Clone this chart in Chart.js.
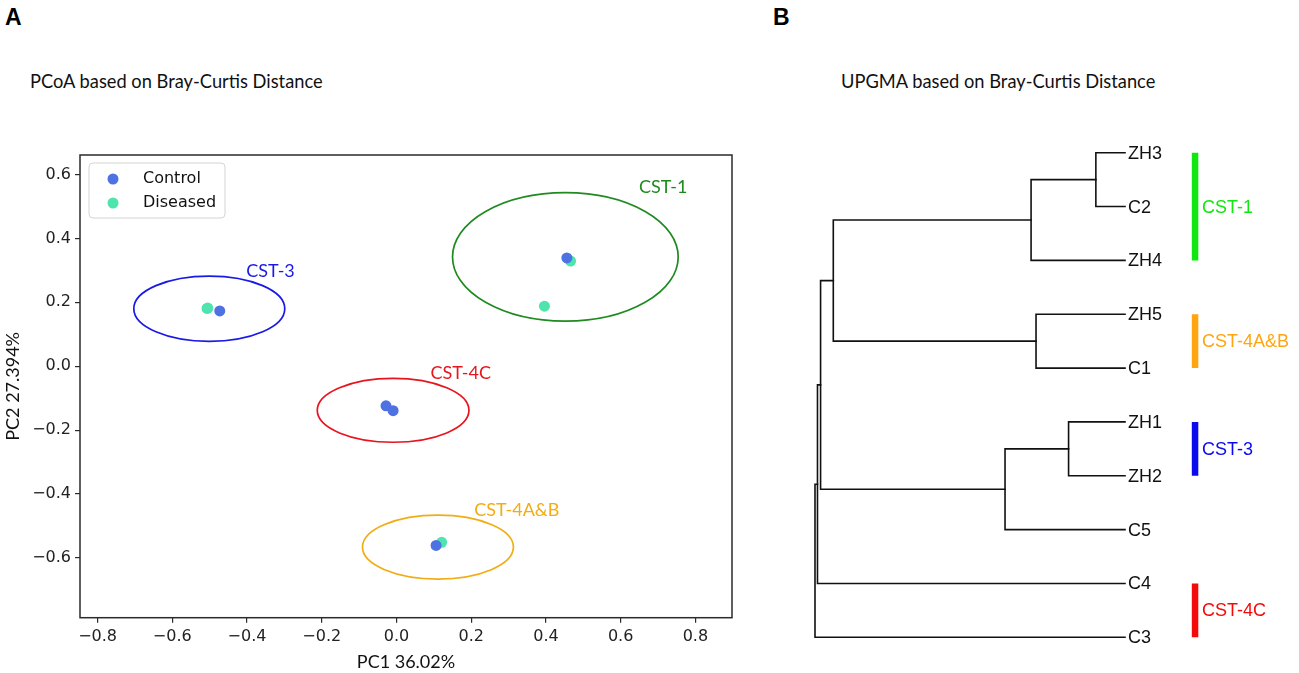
<!DOCTYPE html>
<html>
<head>
<meta charset="utf-8">
<script src="https://cdn.jsdelivr.net/npm/chart.js@4.4.1/dist/chart.umd.min.js"></script>
<style>
  html, body { margin: 0; padding: 0; background: #fff; }
  body { width: 1299px; height: 673px; position: relative; overflow: hidden; }
  .panel { position: absolute; top: 0; height: 673px; }
  .letter { position: absolute; top: 6px; font: bold 23px "Liberation Sans", Arial, sans-serif; line-height: 23px; color: #000; }
  .title { position: absolute; top: 70px; font: 18.3px Lato, "Open Sans", sans-serif; line-height: 22px; color: #111; white-space: nowrap; }
</style>
</head>
<body>
<div class="letter" style="left:5px">A</div>
<div class="letter" style="left:773px">B</div>
<div class="title" style="left:30px">PCoA based on Bray-Curtis Distance</div>
<div class="title" style="left:841px">UPGMA based on Bray-Curtis Distance</div>

<div class="panel" style="left:0; width:745px"><canvas id="pcoaChart"></canvas></div>
<div class="panel" style="left:745px; width:554px"><canvas id="upgmaChart"></canvas></div>

<script>
// ---- panel A: PCoA scores ----
const controlX = [0.456, 0.106, -0.473, -0.028, -0.009];
const controlY = [0.339, -0.561, 0.173, -0.124, -0.139];
const diseasedX = [0.466, 0.396, 0.121, -0.507, -0.505];
const diseasedY = [0.329, 0.188, -0.551, 0.181, 0.182];

// cluster ellipses (centre, semi-axes) and their labels, in PC units
const clusterNamesA = ['CST-1', 'CST-3', 'CST-4C', 'CST-4A&B'];
const ellipseCx = [0.452, -0.501, -0.009, 0.111];
const ellipseCy = [0.342, 0.180, -0.138, -0.566];
const ellipseRx = [0.302, 0.202, 0.203, 0.202];
const ellipseRy = [0.201, 0.102, 0.100, 0.100];
const labelX = [0.714, -0.337, 0.172, 0.322];
const labelY = [0.561, 0.297, -0.022, -0.450];

const xTicks = [-0.8, -0.6, -0.4, -0.2, 0.0, 0.2, 0.4, 0.6, 0.8];
const yTicks = [-0.6, -0.4, -0.2, 0.0, 0.2, 0.4, 0.6];

// ---- panel B: UPGMA tree ----
const leafOrder = ['ZH3', 'C2', 'ZH4', 'ZH5', 'C1', 'ZH1', 'ZH2', 'C5', 'C4', 'C3'];
const mergeA = ['ZH3', 'm0', 'ZH5', 'm1', 'ZH1', 'm4', 'm3', 'm6', 'm7'];
const mergeB = ['C2', 'ZH4', 'C1', 'm2', 'ZH2', 'C5', 'm5', 'C4', 'C3'];
const mergeHeight = [0.094, 0.303, 0.287, 0.941, 0.182, 0.387, 0.982, 0.992, 1.0];

const clusterNamesB = ['CST-1', 'CST-4A&B', 'CST-3', 'CST-4C'];
const clusterFirst = ['ZH3', 'ZH5', 'ZH1', 'C4'];
const clusterLast = ['ZH4', 'C1', 'ZH2', 'C3'];

const colorsA = { 'CST-1': '#1f8a1f', 'CST-3': '#1a1ae6', 'CST-4C': '#e8141e', 'CST-4A&B': '#f2ac14' };
const colorsB = { 'CST-1': '#10e610', 'CST-4A&B': '#ffa510', 'CST-3': '#0a0aee', 'CST-4C': '#f50a0a' };

Chart.defaults.font.family = '"DejaVu Sans", sans-serif';
Chart.defaults.color = '#222';

const fmtTick = v => v.toFixed(1).replace('-', '\u2212');
const labelFont = '18px Lato, "Open Sans", sans-serif';

const pcoaDecor = {
  id: 'pcoaDecor',
  beforeDatasetsDraw(chart) {
    const { ctx, scales: { x, y } } = chart;
    ctx.save();
    ctx.lineWidth = 1.7;
    clusterNamesA.forEach((name, i) => {
      const cx = x.getPixelForValue(ellipseCx[i]);
      const cy = y.getPixelForValue(ellipseCy[i]);
      const rx = Math.abs(x.getPixelForValue(ellipseCx[i] + ellipseRx[i]) - cx);
      const ry = Math.abs(y.getPixelForValue(ellipseCy[i] + ellipseRy[i]) - cy);
      ctx.strokeStyle = colorsA[name];
      ctx.beginPath();
      ctx.ellipse(cx, cy, rx, ry, 0, 0, Math.PI * 2);
      ctx.stroke();
    });
    ctx.font = labelFont;
    ctx.textAlign = 'center';
    ctx.textBaseline = 'middle';
    clusterNamesA.forEach((name, i) => {
      ctx.fillStyle = colorsA[name];
      ctx.fillText(name, x.getPixelForValue(labelX[i]), y.getPixelForValue(labelY[i]));
    });
    ctx.restore();
  },
  afterDraw(chart) {
    const { ctx, chartArea: a } = chart;
    ctx.save();
    // axes box
    ctx.strokeStyle = '#2b2b2b';
    ctx.lineWidth = 1.5;
    ctx.strokeRect(a.left, a.top, a.right - a.left, a.bottom - a.top);
    // legend
    const lx = a.left + 9, ly = a.top + 8, lw = 136, lh = 55;
    ctx.fillStyle = 'rgba(255,255,255,0.85)';
    ctx.strokeStyle = '#d4d4d4';
    ctx.lineWidth = 1;
    ctx.beginPath();
    ctx.roundRect(lx, ly, lw, lh, 4);
    ctx.fill();
    ctx.stroke();
    ctx.font = '16px "DejaVu Sans", sans-serif';
    ctx.textBaseline = 'middle';
    ctx.textAlign = 'left';
    chart.data.datasets.forEach((ds, i) => {
      const rowY = ly + 16 + i * 24;
      ctx.fillStyle = ds.backgroundColor;
      ctx.beginPath();
      ctx.arc(lx + 24, rowY, 5.5, 0, Math.PI * 2);
      ctx.fill();
      ctx.fillStyle = '#111';
      ctx.fillText(ds.label, lx + 54, rowY);
    });
    ctx.restore();
  }
};

new Chart(document.getElementById('pcoaChart'), {
  type: 'scatter',
  data: {
    datasets: [
      { label: 'Control', data: controlX.map((v, i) => ({ x: v, y: controlY[i] })),
        backgroundColor: '#4f72e3', borderWidth: 0, pointRadius: 5.5 },
      { label: 'Diseased', data: diseasedX.map((v, i) => ({ x: v, y: diseasedY[i] })),
        backgroundColor: '#4fe3ad', borderWidth: 0, pointRadius: 5.5 }
    ]
  },
  options: {
    responsive: true,
    maintainAspectRatio: false,
    animation: false,
    events: [],
    layout: { padding: { top: 155, right: 13, left: 0, bottom: 0 } },
    plugins: { legend: { display: false }, tooltip: { enabled: false } },
    scales: {
      x: {
        min: -0.847, max: 0.898,
        afterBuildTicks: axis => { axis.ticks = xTicks.map(v => ({ value: v })); },
        afterFit: s => { s.height = 55.3; },
        ticks: { callback: fmtTick, autoSkip: false, maxRotation: 0, padding: 5, font: { size: 16 }, color: '#222' },
        grid: { drawOnChartArea: false, drawTicks: true, tickLength: 5, color: '#2b2b2b', lineWidth: 1.2 },
        border: { display: false },
        title: { display: true, text: 'PC1 36.02%', font: { family: 'Lato, "Open Sans", sans-serif', size: 18 }, color: '#111', padding: { top: 0, bottom: 0.5 } }
      },
      y: {
        min: -0.787, max: 0.661,
        afterBuildTicks: axis => { axis.ticks = yTicks.map(v => ({ value: v })); },
        afterFit: s => { s.width = 80; },
        ticks: { callback: fmtTick, autoSkip: false, padding: 4, font: { size: 16 }, color: '#222' },
        grid: { drawOnChartArea: false, drawTicks: true, tickLength: 5, color: '#2b2b2b', lineWidth: 1.2 },
        border: { display: false },
        title: { display: true, text: 'PC2 27.394%', font: { family: 'Lato, "Open Sans", sans-serif', size: 18 }, color: '#111', padding: { top: 2, bottom: 0 } }
      }
    }
  },
  plugins: [pcoaDecor]
});

// ---- build dendrogram links from the merge table ----
const nodePos = {};
leafOrder.forEach((name, i) => { nodePos[name] = { h: 0, y: i }; });
const linkSets = mergeA.map((a, i) => {
  const pa = nodePos[a], pb = nodePos[mergeB[i]], H = mergeHeight[i];
  nodePos['m' + i] = { h: H, y: (pa.y + pb.y) / 2 };
  return {
    data: [{ x: pa.h, y: pa.y }, { x: H, y: pa.y }, { x: H, y: pb.y }, { x: pb.h, y: pb.y }],
    showLine: true, borderColor: '#111', borderWidth: 1.6, pointRadius: 0,
    borderCapStyle: 'square', clip: false
  };
});

const barX = -0.226;   // where the cluster bars sit, beyond the leaves
const barSets = clusterNamesB.map((name, i) => ({
  label: name,
  data: [{ x: barX, y: leafOrder.indexOf(clusterFirst[i]) }, { x: barX, y: leafOrder.indexOf(clusterLast[i]) }],
  showLine: true, borderColor: colorsB[name], borderWidth: 6.5, pointRadius: 0,
  borderCapStyle: 'butt', clip: false
}));

const treeLabels = {
  id: 'treeLabels',
  afterDatasetsDraw(chart) {
    const { ctx, scales: { x, y } } = chart;
    ctx.save();
    ctx.font = '18px "Liberation Sans", Arial, sans-serif';
    ctx.textBaseline = 'middle';
    ctx.textAlign = 'left';
    ctx.fillStyle = '#111';
    leafOrder.forEach((name, i) => {
      ctx.fillText(name, x.getPixelForValue(0) + 3, y.getPixelForValue(i) + 1);
    });
    clusterNamesB.forEach((name, i) => {
      const mid = (leafOrder.indexOf(clusterFirst[i]) + leafOrder.indexOf(clusterLast[i])) / 2;
      ctx.fillStyle = colorsB[name];
      ctx.fillText(name, x.getPixelForValue(barX) + 7, y.getPixelForValue(mid) + 1);
    });
    ctx.restore();
  }
};

new Chart(document.getElementById('upgmaChart'), {
  type: 'scatter',
  data: { datasets: linkSets.concat(barSets) },
  options: {
    responsive: true,
    maintainAspectRatio: false,
    animation: false,
    events: [],
    layout: { padding: { top: 152.7, bottom: 35.7, left: 70, right: 3.5 } },
    plugins: { legend: { display: false }, tooltip: { enabled: false } },
    scales: {
      x: { type: 'linear', reverse: true, min: -0.55, max: 1.0, display: false },
      y: { type: 'linear', reverse: true, min: 0, max: leafOrder.length - 1, display: false }
    }
  },
  plugins: [treeLabels]
});
</script>
</body>
</html>
